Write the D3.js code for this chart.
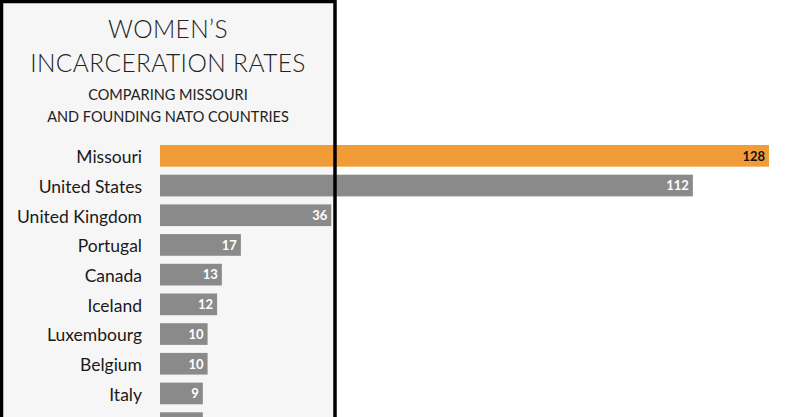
<!DOCTYPE html>
<html><head><meta charset="utf-8">
<script src="https://cdn.jsdelivr.net/npm/d3@7"></script>
<style>
html,body{margin:0;padding:0;background:#fff;}
svg{display:block;}
</style></head>
<body>
<svg id="chart" width="800" height="417"></svg>
<script>
const countries = ["Missouri","United States","United Kingdom","Portugal","Canada","Iceland","Luxembourg","Belgium","Italy","Norway"];
const rates = [128,112,36,17,13,12,10,10,9,9];
const highlight = ["Missouri"];
const titleLines = ["WOMEN\u2019S","INCARCERATION RATES"];
const subtitleLines = ["COMPARING MISSOURI","AND FOUNDING NATO COUNTRIES"];

const W = 800, H = 417;
const data = countries.map((c,i)=>({country:c, value:rates[i]}));
const svg = d3.select("#chart");
const font = "Lato, 'Open Sans', sans-serif";

svg.append("rect").attr("x",0).attr("y",0).attr("width",W).attr("height",H).attr("fill","#fff");
svg.append("rect").attr("x",2).attr("y",2).attr("width",333).attr("height",430).attr("fill","#f6f6f6");

const step = 29.7;
const y = d3.scaleBand().domain(countries)
  .range([145 - 0.135*step, 145 - 0.135*step + countries.length*step])
  .paddingInner(0.27).paddingOuter(0.135);
const x = d3.scaleLinear().domain([0,128]).range([160,769]);

svg.append("g").selectAll("rect").data(data).join("rect")
  .attr("x", x(0)).attr("y", d=>y(d.country))
  .attr("width", d=>x(d.value)-x(0)).attr("height", y.bandwidth())
  .attr("fill", d=>highlight.includes(d.country) ? "#f29c38" : "#8a8a8a");

// only rows whose text fits inside the picture get labels
const labelled = data.filter(d => y(d.country) + y.bandwidth() <= H);

svg.append("g").selectAll("text").data(labelled).join("text")
  .attr("x", 142).attr("y", d=>y(d.country)+y.bandwidth()/2)
  .attr("dy","0.42em").attr("text-anchor","end")
  .attr("font-family",font).attr("font-size",17.5).attr("fill","#1a1a1a")
  .text(d=>d.country);

svg.append("g").selectAll("text").data(labelled).join("text")
  .attr("x", d=>x(d.value)-4).attr("y", d=>y(d.country)+y.bandwidth()/2)
  .attr("dy","0.37em").attr("text-anchor","end")
  .attr("font-family",font).attr("font-weight","bold").attr("font-size",13)
  .attr("fill", d=>highlight.includes(d.country) ? "#111" : "#fff")
  .text(d=>d.value);

svg.append("path").attr("d","M1.5,417 V1.5 H335 V417")
  .attr("fill","none").attr("stroke","#000").attr("stroke-width",3.5);

svg.append("g").selectAll("text").data(titleLines).join("text")
  .attr("x",168).attr("y",(d,i)=>37.5+i*34).attr("text-anchor","middle")
  .attr("font-family",font).attr("font-weight",300).attr("font-size",24.5)
  .attr("letter-spacing",0.4).attr("fill","#222")
  .text(d=>d);
svg.append("g").selectAll("text").data(subtitleLines).join("text")
  .attr("x",168).attr("y",(d,i)=>99.5+i*22).attr("text-anchor","middle")
  .attr("font-family",font).attr("font-size",14.5).attr("fill","#222")
  .text(d=>d);
</script>
</body></html>
